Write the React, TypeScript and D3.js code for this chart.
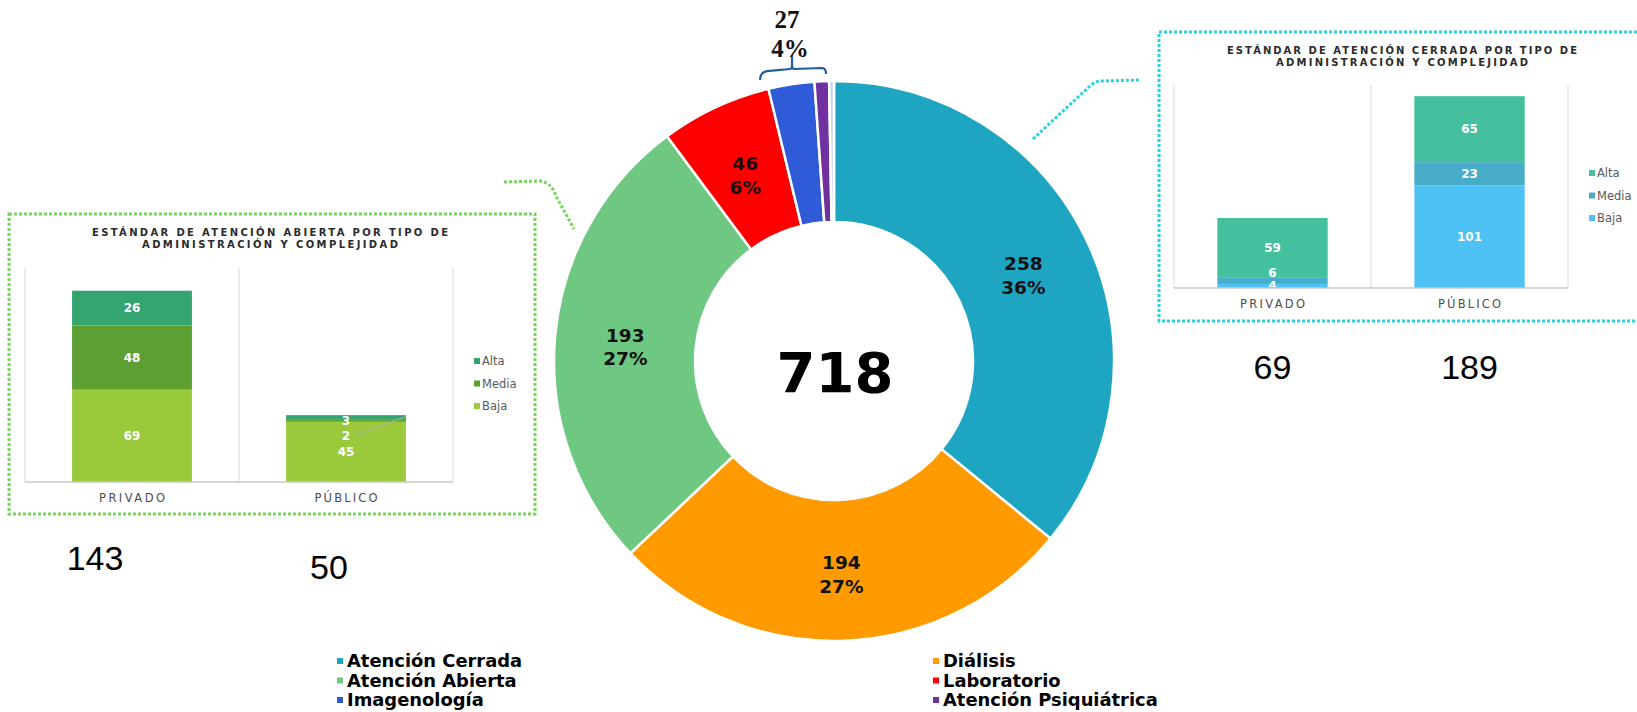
import React, { useEffect, useRef } from 'react';
import * as d3 from 'd3';

// dona principal
const categories = ['Atención Cerrada', 'Diálisis', 'Atención Abierta', 'Laboratorio', 'Imagenología', 'Atención Psiquiátrica', 'Otros'];
const counts = [258, 194, 193, 46, 19, 6, 2];
const sliceColors = ['#1ea5c1', '#ff9a00', '#6fc882', '#ff0000', '#2f5bd8', '#7030a0', '#c9d4e6'];
const legendItems = ['Atención Cerrada', 'Diálisis', 'Atención Abierta', 'Laboratorio', 'Imagenología', 'Atención Psiquiátrica'];
const groupedSlices = ['Imagenología', 'Atención Psiquiátrica', 'Otros'];

// graficos de barras
const adminTypes = ['PRIVADO', 'PÚBLICO'];
const levels = ['Baja', 'Media', 'Alta'];
const abiertaBaja = [69, 45];
const abiertaMedia = [48, 2];
const abiertaAlta = [26, 3];
const cerradaBaja = [4, 101];
const cerradaMedia = [6, 23];
const cerradaAlta = [59, 65];

const abiertaTitle = ['ESTÁNDAR DE ATENCIÓN ABIERTA POR TIPO DE', 'ADMINISTRACIÓN Y COMPLEJIDAD'];
const cerradaTitle = ['ESTÁNDAR DE ATENCIÓN CERRADA POR TIPO DE', 'ADMINISTRACIÓN Y COMPLEJIDAD'];

const sans = "'DejaVu Sans', Verdana, sans-serif";

const drawInset = (svg, cfg) => {
    const g = svg.append('g');
    const [bx0, by0, bx1, by1] = cfg.box;

    g.append('rect')
        .attr('x', bx0).attr('y', by0)
        .attr('width', bx1 - bx0).attr('height', by1 - by0)
        .attr('fill', '#fff')
        .attr('stroke', cfg.border)
        .attr('stroke-width', 3)
        .attr('stroke-dasharray', '3 2');

    cfg.title.forEach((t, i) => {
        g.append('text')
            .attr('x', cfg.titleX)
            .attr('y', cfg.titleY + i * 12)
            .attr('text-anchor', 'middle')
            .attr('textLength', cfg.titleLen[i])
            .attr('lengthAdjust', 'spacing')
            .style('font-family', sans)
            .style('font-weight', 'bold')
            .style('font-size', '10px')
            .style('fill', '#2b2b2b')
            .text(t);
    });

    const table = adminTypes.map((t, i) => ({ type: t, Baja: cfg.baja[i], Media: cfg.media[i], Alta: cfg.alta[i] }));
    const x = d3.scaleBand().domain(adminTypes).range([cfg.left, cfg.right]).paddingInner(0.44).paddingOuter(0.22);
    const y = d3.scaleLinear().domain([0, cfg.max]).range([cfg.base, cfg.top]);

    // lineas verticales entre categorias
    d3.range(adminTypes.length + 1).forEach(i => {
        const lx = cfg.left + i * x.step();
        g.append('line')
            .attr('x1', lx).attr('x2', lx)
            .attr('y1', cfg.top).attr('y2', cfg.base)
            .attr('stroke', '#d9d9d9').attr('stroke-width', 1);
    });

    const series = d3.stack().keys(levels)(table);

    series.forEach((s, si) => {
        g.selectAll(null)
            .data(s)
            .enter()
            .append('rect')
            .attr('x', d => x(d.data.type))
            .attr('width', x.bandwidth())
            .attr('y', d => y(d[1]))
            .attr('height', d => y(d[0]) - y(d[1]))
            .attr('fill', cfg.colors[si]);
    });

    g.append('line')
        .attr('x1', cfg.left).attr('x2', cfg.right)
        .attr('y1', cfg.base).attr('y2', cfg.base)
        .attr('stroke', '#c8c8c8').attr('stroke-width', 1.5);

    // etiquetas de valores, separadas para que no se encimen
    const clipId = `clip-${cfg.id}`;
    g.append('clipPath').attr('id', clipId)
        .append('rect')
        .attr('x', cfg.left).attr('y', cfg.top - 20)
        .attr('width', cfg.right - cfg.left).attr('height', cfg.base - cfg.top + 19);
    const labels = g.append('g').attr('clip-path', `url(#${clipId})`);

    adminTypes.forEach((t, ti) => {
        const segs = series.map(s => ({ v: s[ti][1] - s[ti][0], ny: y((s[ti][0] + s[ti][1]) / 2), top: y(s[ti][1]) }));
        const barTop = y(series[series.length - 1][ti][1]);
        const placed = segs.map(s => s.ny);
        if (cfg.sweep === 'down') {
            let prev = null;
            for (let i = segs.length - 1; i >= 0; i--) {
                let py = Math.max(segs[i].ny, barTop + 6);
                if (prev !== null) py = Math.max(py, prev + cfg.gap);
                placed[i] = py;
                prev = py;
            }
        } else {
            let prev = null;
            for (let i = 0; i < segs.length; i++) {
                let py = segs[i].ny;
                if (prev !== null) py = Math.min(py, prev - cfg.gap);
                placed[i] = py;
                prev = py;
            }
        }
        const cx = x(t) + x.bandwidth() / 2;
        segs.forEach((s, i) => {
            if (Math.abs(placed[i] - s.ny) > 8) {
                g.append('line')
                    .attr('x1', cx + 7).attr('y1', placed[i])
                    .attr('x2', x(t) + x.bandwidth()).attr('y2', s.ny - 4)
                    .attr('stroke', '#b0b0b0').attr('stroke-width', 1);
            }
            labels.append('text')
                .attr('x', cx)
                .attr('y', placed[i])
                .attr('dy', '0.36em')
                .attr('text-anchor', 'middle')
                .style('font-family', sans)
                .style('font-weight', 'bold')
                .style('font-size', '12px')
                .style('fill', '#fff')
                .text(s.v);
        });

        g.append('text')
            .attr('x', cx)
            .attr('y', cfg.base + 16)
            .attr('dy', '0.35em')
            .attr('text-anchor', 'middle')
            .attr('textLength', cfg.catLen[ti])
            .attr('lengthAdjust', 'spacing')
            .style('font-family', sans)
            .style('font-size', '11.5px')
            .style('fill', '#4d4d4d')
            .text(t);

        // total por tipo de administracion
        g.append('text')
            .attr('x', cx + cfg.totalDx[ti])
            .attr('y', cfg.totalY[ti])
            .attr('text-anchor', 'middle')
            .style('font-family', "'Liberation Sans', Arial, sans-serif")
            .style('font-size', '34px')
            .style('fill', '#000')
            .text(d3.sum(series, s => s[ti][1] - s[ti][0]));
    });

    // leyenda
    levels.slice().reverse().forEach((l, i) => {
        const ci = levels.indexOf(l);
        const ly = cfg.legendY + i * 22.5;
        g.append('rect')
            .attr('x', cfg.legendX).attr('y', ly - 3)
            .attr('width', 6).attr('height', 6)
            .attr('fill', cfg.colors[ci]);
        g.append('text')
            .attr('x', cfg.legendX + 8)
            .attr('y', ly)
            .attr('dy', '0.35em')
            .style('font-family', sans)
            .style('font-size', '11.5px')
            .style('fill', '#595959')
            .text(l);
    });
};

const App = () => {
    const svgRef = useRef(null);

    useEffect(() => {
        const width = 1637;
        const height = 712;
        const cx = 834;
        const cy = 361;
        const outerR = 280;
        const innerR = 139;

        const svg = d3.select(svgRef.current);
        svg.selectAll('*').remove();
        svg.attr('width', width).attr('height', height);

        svg.append('rect').attr('width', width).attr('height', height).attr('fill', '#fff');

        // lineas punteadas que unen
        svg.append('path')
            .attr('d', 'M504,182 L540,181 Q552,183 556,196 L574,229')
            .attr('fill', 'none')
            .attr('stroke', '#78d65c')
            .attr('stroke-width', 3)
            .attr('stroke-dasharray', '3 2');
        svg.append('path')
            .attr('d', 'M1033,139 L1090,86 Q1095,81 1102,81 L1140,80')
            .attr('fill', 'none')
            .attr('stroke', '#29d2e0')
            .attr('stroke-width', 3)
            .attr('stroke-dasharray', '3 2');

        drawInset(svg, {
            id: 'abierta',
            box: [9, 214, 535, 514],
            border: '#78d65c',
            title: abiertaTitle,
            titleX: 270, titleY: 236, titleLen: [356, 256],
            baja: abiertaBaja, media: abiertaMedia, alta: abiertaAlta,
            colors: ['#9aca3c', '#5e9f34', '#34a56f'],
            left: 25, right: 453, top: 268, base: 482, max: 160,
            sweep: 'down', gap: 15,
            catLen: [66, 63],
            totalDx: [-37, -17], totalY: [570, 579],
            legendX: 474, legendY: 361
        });

        drawInset(svg, {
            id: 'cerrada',
            box: [1159, 32, 1660, 321],
            border: '#29d2e0',
            title: cerradaTitle,
            titleX: 1402, titleY: 54, titleLen: [350, 252],
            baja: cerradaBaja, media: cerradaMedia, alta: cerradaAlta,
            colors: ['#4fc2f5', '#48adc9', '#45c09f'],
            left: 1174, right: 1568, top: 85, base: 288, max: 200,
            sweep: 'up', gap: 13,
            catLen: [65, 63],
            totalDx: [0, 0], totalY: [379, 379],
            legendX: 1589, legendY: 173
        });

        // dona
        const total = d3.sum(counts);
        const pie = d3.pie().sort(null).value(d => d.v);
        const arcs = pie(categories.map((c, i) => ({ c, v: counts[i], color: sliceColors[i] })));
        const arc = d3.arc().innerRadius(innerR).outerRadius(outerR);
        const pct = d3.format('.0%');

        const donut = svg.append('g').attr('transform', `translate(${cx},${cy})`);

        donut.selectAll('path')
            .data(arcs)
            .enter()
            .append('path')
            .attr('d', arc)
            .attr('fill', d => d.data.color)
            .attr('stroke', '#fff')
            .attr('stroke-width', 2.5);

        donut.selectAll('text.slice')
            .data(arcs.filter(d => !groupedSlices.includes(d.data.c)))
            .enter()
            .append('text')
            .attr('class', 'slice')
            .attr('transform', d => {
                const [x, y] = arc.centroid(d);
                return `translate(${x},${y})`;
            })
            .attr('text-anchor', 'middle')
            .style('font-family', sans)
            .style('font-weight', 'bold')
            .style('font-size', '18.5px')
            .style('fill', '#111')
            .each(function (d) {
                const t = d3.select(this);
                t.append('tspan').attr('x', 0).attr('dy', '-0.05em').text(d.data.v);
                t.append('tspan').attr('x', 0).attr('dy', '1.27em').text(pct(d.data.v / total));
            });

        // llave para las porciones pequeñas
        const small = arcs.filter(d => groupedSlices.includes(d.data.c));
        const smallSum = d3.sum(small, d => d.data.v);
        const a0 = d3.min(small, d => d.startAngle);
        const a1 = d3.max(small, d => d.endAngle);
        const br = outerR + 10;
        const px = a => br * Math.sin(a);
        const py = a => -br * Math.cos(a);
        const bl = [px(a0) - 6, py(a0) + 1];
        const brr = [px(a1) - 8, py(a1)];
        const mid = (bl[0] + brr[0]) / 2 - 1;
        donut.append('path')
            .attr('d', `M${bl[0]},${bl[1]} Q${bl[0]},${bl[1] - 8} ${bl[0] + 7},${bl[1] - 9}
                L${mid - 2},${brr[1] - 2} Q${mid},${brr[1] - 2} ${mid},${brr[1] - 6}
                M${mid},${brr[1] - 2} L${mid},${brr[1] - 16}
                M${mid},${brr[1] - 6} Q${mid},${brr[1] - 2} ${mid + 2},${brr[1] - 2}
                L${brr[0] - 4},${brr[1] - 3} Q${brr[0]},${brr[1] - 3} ${brr[0]},${brr[1] + 3}`)
            .attr('fill', 'none')
            .attr('stroke', '#1f5f99')
            .attr('stroke-width', 2.2);

        donut.append('text')
            .attr('text-anchor', 'middle')
            .style('font-family', "'Liberation Serif', 'Times New Roman', serif")
            .style('font-weight', 'bold')
            .style('font-size', '25px')
            .style('fill', '#111')
            .each(function () {
                const t = d3.select(this);
                t.append('tspan').attr('x', mid - 5).attr('y', -br - 43).text(smallSum);
                t.append('tspan').attr('x', mid - 2).attr('dy', 29).text(pct(smallSum / total));
            });

        donut.append('text')
            .attr('x', 1)
            .attr('y', 11)
            .attr('dy', '0.36em')
            .attr('text-anchor', 'middle')
            .style('font-family', sans)
            .style('font-weight', 'bold')
            .style('font-size', '56px')
            .style('fill', '#000')
            .text(total);

        // leyenda inferior (letra angosta y alta, estirada en horizontal)
        const colX = [337, 933];
        legendItems.forEach((name, i) => {
            const col = i % 2;
            const row = Math.floor(i / 2);
            const lx = colX[col];
            const ly = 661 + row * 19.5;
            const ci = categories.indexOf(name);
            svg.append('rect')
                .attr('x', lx).attr('y', ly - 3)
                .attr('width', 6).attr('height', 6)
                .attr('fill', sliceColors[ci]);
            svg.append('text')
                .attr('transform', `translate(${lx + 10},${ly}) scale(1.17,1)`)
                .attr('dy', '0.36em')
                .style('font-family', "'DejaVu Sans Condensed', 'DejaVu Sans', sans-serif")
                .style('font-stretch', 'condensed')
                .style('font-weight', 'bold')
                .style('font-size', '17px')
                .style('fill', '#000')
                .text(name);
        });
    });

    return <svg ref={svgRef} style={{ position: 'absolute', left: 0, top: 0, display: 'block' }}></svg>;
};

export default App;
